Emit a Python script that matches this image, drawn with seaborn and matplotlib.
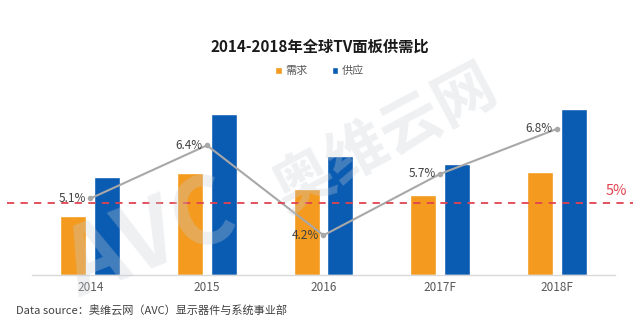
import numpy as np
import pandas as pd
import matplotlib
matplotlib.use("Agg")
import matplotlib.pyplot as plt
import matplotlib.transforms as mtransforms
import seaborn as sns

# ---- data ----
years = ["2014", "2015", "2016", "2017F", "2018F"]
demand = [59.3, 102.3, 85.7, 79.7, 103.0]
supply = [97.7, 160.7, 119.3, 111.3, 166.0]
ratio = [5.1, 6.4, 4.2, 5.7, 6.8]
ratio_labels = ["5.1%", "6.4%", "4.2%", "5.7%", "6.8%"]
threshold = 5.0
series_names = ["需求", "供应"]

title = "2014-2018年全球TV面板供需比"
source = "Data source：奥维云网（AVC）显示器件与系统事业部"

ORANGE = "#F39A1F"
BLUE = "#0A5BB2"
GRAY = "#A8A8A8"
RED = "#E0434F"

sns.set_theme(style="white")
plt.rcParams["font.family"] = ["Noto Sans CJK SC", "DejaVu Sans"]

df = pd.DataFrame({
    "year": years * 2,
    "value": demand + supply,
    "series": [series_names[0]] * len(years) + [series_names[1]] * len(years),
})

W, H = 639, 332
fig = plt.figure(figsize=(W / 100, H / 100), dpi=100)
ax_left, ax_right, ax_base, ax_top = 32, 615, 275, 95
ax = fig.add_axes([ax_left / W, (H - ax_base) / H,
                   (ax_right - ax_left) / W, (ax_base - ax_top) / H])

sns.barplot(data=df, x="year", y="value", hue="series",
            palette=[ORANGE, BLUE], width=0.58, gap=0.23,
            saturation=1, ax=ax, legend=True, zorder=2)
ax.set_ylim(0, 180)
ax.set_xlim(-0.5, len(years) - 0.5)
ax.set_xlabel("")
ax.set_ylabel("")
ax.set_yticks([])
for side in ["top", "left", "right"]:
    ax.spines[side].set_visible(False)
ax.spines["bottom"].set_color("#D9D9D9")
ax.spines["bottom"].set_linewidth(1.0)
ax.tick_params(axis="x", length=0, pad=4, labelsize=8.5, labelcolor="#595959")

handles, labels = ax.get_legend_handles_labels()
ax.get_legend().remove()
fig.legend(handles, labels, loc="center", bbox_to_anchor=(0.5, 1 - 71 / H),
           ncol=2, frameon=False, handlelength=0.6, handleheight=0.6,
           handletextpad=0.3, columnspacing=2.2, fontsize=8,
           labelcolor="#595959")

# ---- supply/demand balance line on a secondary scale ----
ax2 = ax.twinx()
ax2.set_ylim(3.23, 7.63)
ax2.set_yticks([])
for side in ["top", "left", "right", "bottom"]:
    ax2.spines[side].set_visible(False)

xpos = np.arange(len(years))
sns.lineplot(x=xpos, y=ratio, ax=ax2, color=GRAY, linewidth=1.5,
             marker="o", markersize=4, markeredgewidth=0, zorder=3)
for x, y, lab in zip(xpos, ratio, ratio_labels):
    ax2.annotate(lab, (x, y), xytext=(-3, 0), textcoords="offset points",
                 ha="right", va="center", fontsize=8.5, color="#404040")

# 5% reference line across the whole width
ax2.axhline(threshold, xmin=-0.043, xmax=1.031, color=RED, linewidth=1.3,
            linestyle=(0, (4, 3.5)), clip_on=False, zorder=4)
trans = mtransforms.blended_transform_factory(ax2.transAxes, ax2.transData)
ax2.text(1.003, threshold + 0.28, f"{threshold:g}%", transform=trans,
         ha="center", va="center", fontsize=10.5, color=RED)

# ---- titles and notes ----
fig.text(0.5, 1 - 47 / H, title, ha="center", va="center",
         fontsize=11, fontweight="bold", color="#1A1A1A")
fig.text(16 / W, 1 - 311 / H, source, ha="left", va="center",
         fontsize=8, color="#404040")

# faint brand watermark
fig.text(150 / W, 1 - 240 / H, "AVC", ha="center", va="center",
         fontsize=66, fontweight="bold", color="#C9CED6", alpha=0.3,
         rotation=22, zorder=10)
fig.text(385 / W, 1 - 140 / H, "奥维云网", ha="center", va="center",
         fontsize=44, fontweight="bold", color="#C9CED6", alpha=0.3,
         rotation=28, zorder=10)

fig.savefig("out.png", dpi=100)
